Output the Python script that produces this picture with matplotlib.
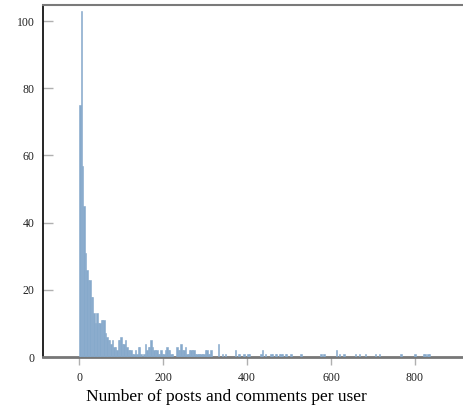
import numpy as np
import matplotlib
matplotlib.use("Agg")
import matplotlib.pyplot as plt

# histogram of posts+comments per user, bins of ~3.4
bin_width = 3.4
n_bins = 250

# dense part, bins from 0 up to ~312
head_counts = [75, 103, 57, 45, 31, 26, 23, 23, 18, 18,
               13, 10, 13, 10, 10, 11, 11, 11, 7, 6,
               5, 5, 4, 5, 3, 3, 2, 5, 5, 6,
               4, 4, 5, 3, 2, 2, 2, 1, 1, 2,
               1, 3, 3, 1, 0, 1, 4, 2, 3, 3,
               5, 3, 2, 2, 2, 1, 1, 2, 1, 1,
               2, 3, 2, 2, 1, 1, 0, 0, 3, 2,
               2, 4, 2, 2, 3, 1, 1, 2, 2, 2,
               2, 1, 1, 1, 1, 1, 1, 1, 2, 2,
               1, 1]

# sparse tail: approximate values and counts
tail_values = [316, 331, 340, 350, 373, 378, 383, 392, 403, 407,
               435, 438, 443, 458, 462, 467, 472, 476, 480, 485,
               490, 495, 505, 527, 577, 582, 613, 622, 632, 657,
               667, 682, 707, 714, 765, 802, 821, 826, 831, 836]
tail_counts = [2, 4, 1, 1, 2, 1, 1, 1, 1, 1,
               1, 2, 1, 1, 1, 1, 1, 1, 1, 1,
               1, 1, 1, 1, 1, 1, 2, 1, 1, 1,
               1, 1, 1, 1, 1, 1, 1, 1, 1, 1]

counts = np.zeros(n_bins)
counts[:len(head_counts)] = head_counts
for v, c in zip(tail_values, tail_counts):
    counts[int(v // bin_width)] += c
edges = np.arange(n_bins) * bin_width
keep = counts > 0

bar_col = '#86a9cb'

fig = plt.figure(figsize=(4.64, 4.2), dpi=100)
ax = fig.add_axes([43/464, 1 - 357/420, 1 - 43/464, 352/420])

ax.bar(edges[keep], counts[keep], width=bin_width, align='edge',
       color=bar_col, edgecolor=bar_col, linewidth=0.4, zorder=3)

ax.set_xlim(-86, 917)
ax.set_ylim(0, 104.8)
ax.set_xticks([0, 200, 400, 600, 800])
ax.set_yticks([0, 20, 40, 60, 80, 100])

ax.spines['right'].set_visible(False)
ax.spines['left'].set_color('black')
ax.spines['left'].set_linewidth(1.2)
ax.spines['top'].set_color('#7a7a7a')
ax.spines['top'].set_linewidth(1.5)
ax.spines['bottom'].set_color('#777777')
ax.spines['bottom'].set_linewidth(2)

ax.tick_params(axis='y', direction='in', length=7, width=1, color='#b0b0b0', pad=6)
ax.tick_params(axis='x', direction='out', length=6, width=1, color='#b0b0b0', pad=5)
for lab in ax.get_xticklabels() + ax.get_yticklabels():
    lab.set_fontfamily('Liberation Serif')
    lab.set_fontsize(8.5)
    lab.set_color('#222222')

fig.text(226/464, 1 - 397/420, 'Number of posts and comments per user',
         ha='center', va='center', fontsize=12.5, family='Liberation Serif')

fig.savefig('out.png', dpi=100)
